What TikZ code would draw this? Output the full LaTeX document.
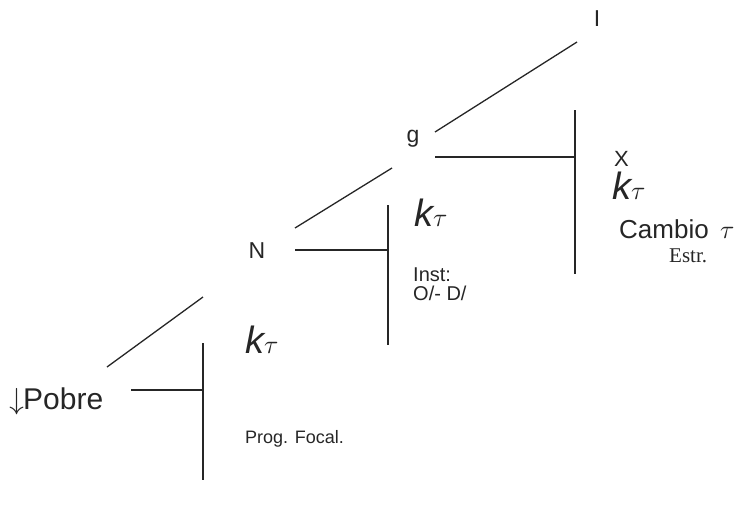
\documentclass[tikz,border=0pt]{standalone}
\usepackage{fontspec}
\setmainfont{Liberation Sans}
\newfontfamily\serifx{Liberation Serif}
\usepackage{unicode-math}
\setmathfont{Latin Modern Math}
\begin{document}
\begin{tikzpicture}[x=1pt,y=-1pt,
  lbl/.style={inner sep=0pt,anchor=base west,text=black!85},
  ln/.style={line width=1.3pt,draw=black!85}]
\useasboundingbox (0,0) rectangle (742,509);
% node labels
\node[lbl,anchor=base] (I) at (597,26) {\fontsize{23}{26}\selectfont I};
\node[lbl,anchor=base] (g) at (413,142) {\fontsize{23}{26}\selectfont g};
\node[lbl,anchor=base] (N) at (257,258) {\fontsize{23}{26}\selectfont N};
\node[lbl] (pobre) at (9,409) {\fontsize{30}{34}\selectfont$\downarrow$\kern-1pt Pobre};
% right block
\coordinate (a1) at (435,132); \coordinate (a2) at (577,42);
\coordinate (h1s) at (435,157); \coordinate (h1e) at (575,157);
\coordinate (v1t) at (575,110); \coordinate (v1b) at (575,274);
\draw[ln] (a1) -- (a2);
\draw[ln] (h1s) -- (h1e);
\draw[ln] (v1t) -- (v1b);
\node[lbl] (X) at (614,166) {\fontsize{22}{26}\selectfont X};
\node[lbl] (k1) at (612,199) {\fontsize{38}{42}\selectfont\itshape k\fontsize{26}{30}\selectfont$\tau$};
\node[lbl] (cambio) at (619,238) {\fontsize{26}{30}\selectfont Cambio\hspace{4pt} $\tau$};
\node[lbl] (estr) at (669,262) {\fontsize{21}{24}\selectfont\serifx Estr.};
% middle block
\coordinate (b1) at (295,228); \coordinate (b2) at (392,168);
\coordinate (h2s) at (295,250); \coordinate (h2e) at (388,250);
\coordinate (v2t) at (388,205); \coordinate (v2b) at (388,345);
\draw[ln] (b1) -- (b2);
\draw[ln] (h2s) -- (h2e);
\draw[ln] (v2t) -- (v2b);
\node[lbl] (k2) at (414,226) {\fontsize{38}{42}\selectfont\itshape k\fontsize{26}{30}\selectfont$\tau$};
\node[lbl] (inst) at (413,281) {\fontsize{20}{22}\selectfont Inst:};
\node[lbl] (od) at (413,300) {\fontsize{20}{22}\selectfont O/- D/};
% lower block
\coordinate (c1) at (107,367); \coordinate (c2) at (203,297);
\coordinate (h3s) at (131,390); \coordinate (h3e) at (203,390);
\coordinate (v3t) at (203,343); \coordinate (v3b) at (203,480);
\draw[ln] (c1) -- (c2);
\draw[ln] (h3s) -- (h3e);
\draw[ln] (v3t) -- (v3b);
\node[lbl] (k3) at (245,353) {\fontsize{38}{42}\selectfont\itshape k\fontsize{26}{30}\selectfont$\tau$};
\node[lbl] (prog) at (245,443) {\fontsize{18}{22}\selectfont Prog. Focal.};
\end{tikzpicture}
\end{document}
